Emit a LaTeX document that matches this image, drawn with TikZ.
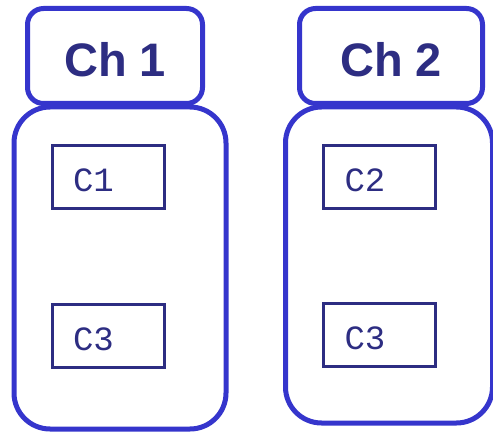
\documentclass[tikz,border=0pt]{standalone}
\usepackage{fontspec}
\setmainfont{Liberation Sans}
\newfontfamily\monofnt{Liberation Mono}
\definecolor{bordblue}{HTML}{3535CC}
\definecolor{navy}{HTML}{2D2D82}
\begin{document}
\begin{tikzpicture}[x=1pt,y=-1pt,
  head/.style={draw=bordblue, line width=5pt, rounded corners=16pt, fill=white, inner sep=0pt},
  body/.style={draw=bordblue, line width=5pt, rounded corners=36pt, inner sep=0pt},
  comp/.style={draw=navy, line width=3pt, inner sep=0pt, minimum width=112pt, minimum height=63pt},
  comptxt/.style={text=navy, font=\monofnt\fontsize{34}{34}\selectfont},
  headtxt/.style={text=navy, font=\bfseries\fontsize{47}{47}\selectfont}]
\useasboundingbox (0,0) rectangle (493,433);
% bodies
\node[body, minimum width=212pt, minimum height=322pt] (b1) at (120,268) {};
\node[body, minimum width=207pt, minimum height=316pt] (b2) at (389,265) {};
% headers
\node[head, minimum width=175pt, minimum height=95pt] (h1) at (115,56) {};
\node[headtxt] at ([yshift=-4pt]h1.center) {Ch 1};
\node[head, minimum width=183pt, minimum height=95pt] (h2) at (391,56) {};
\node[headtxt] at ([yshift=-4pt]h2.center) {Ch 2};
% components
\node[comp] (c1) at (108,177.5) {};
\node[comp] (c3a) at (108,336) {};
\node[comp] (c2) at (379.5,177.5) {};
\node[comp] (c3b) at (379.5,335) {};
\node[comptxt, anchor=west] at ([xshift=19pt,yshift=-3pt]c1.west) {C1};
\node[comptxt, anchor=west] at ([xshift=19pt,yshift=-3pt]c3a.west) {C3};
\node[comptxt, anchor=west] at ([xshift=19pt,yshift=-3pt]c2.west) {C2};
\node[comptxt, anchor=west] at ([xshift=19pt,yshift=-3pt]c3b.west) {C3};
\end{tikzpicture}
\end{document}
